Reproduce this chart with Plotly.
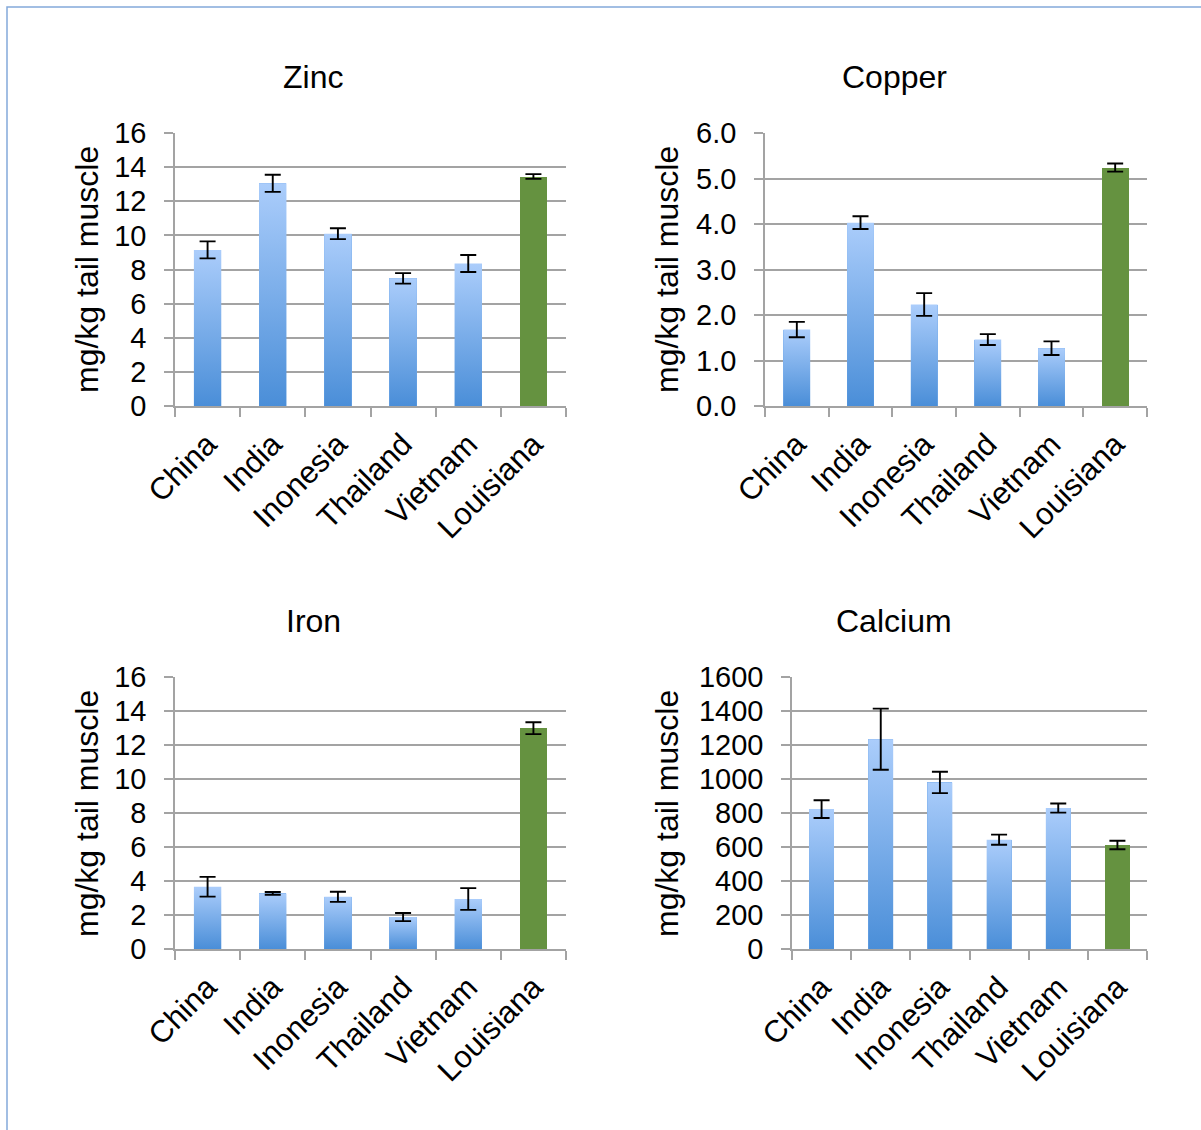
import plotly.graph_objects as go

# ---------------- data ----------------
categories = ["China", "India", "Inonesia", "Thailand", "Vietnam", "Louisiana"]

zinc_vals = [9.15, 13.05, 10.1, 7.48, 8.35, 13.45]
zinc_err = [0.5, 0.5, 0.32, 0.31, 0.5, 0.14]

copper_vals = [1.68, 4.03, 2.23, 1.46, 1.27, 5.24]
copper_err = [0.17, 0.14, 0.25, 0.12, 0.15, 0.09]

iron_vals = [3.66, 3.27, 3.07, 1.88, 2.94, 12.99]
iron_err = [0.58, 0.08, 0.3, 0.24, 0.64, 0.35]

calcium_vals = [823, 1234, 980, 643, 829, 612]
calcium_err = [52, 180, 63, 30, 27, 25]

panel_titles = ["Zinc", "Copper", "Iron", "Calcium"]
y_ticks = [
    [0, 2, 4, 6, 8, 10, 12, 14, 16],
    [0, 1, 2, 3, 4, 5, 6],
    [0, 2, 4, 6, 8, 10, 12, 14, 16],
    [0, 200, 400, 600, 800, 1000, 1200, 1400, 1600],
]
y_tick_labels = [
    ["0", "2", "4", "6", "8", "10", "12", "14", "16"],
    ["0.0", "1.0", "2.0", "3.0", "4.0", "5.0", "6.0"],
    ["0", "2", "4", "6", "8", "10", "12", "14", "16"],
    ["0", "200", "400", "600", "800", "1000", "1200", "1400", "1600"],
]
y_label = "mg/kg tail muscle"

# ---------------- style ----------------
W, H = 1201, 1130
FONT = "Liberation Sans, Arial, Helvetica, sans-serif"
GRID = "#A3A3A3"
BLUE_TOP = "#ABCDFB"
BLUE_BOT = "#4A8ED8"
BLUE_MID = "#7AAEEB"
GREEN = "#659240"
BAR_W = 0.42

# pixel layout of each panel: (x0, x1, ytop, ybottom)
panels_px = [
    (175, 566, 133, 406),
    (765, 1147, 133, 406),
    (175, 566, 677, 949),
    (792, 1147, 677, 949),
]
title_px = [(313, 77), (894, 77), (313, 621), (894, 621)]
ytitle_px = [(87, 270), (667, 270), (87, 814), (667, 814)]

series = [
    (zinc_vals, zinc_err),
    (copper_vals, copper_err),
    (iron_vals, iron_err),
    (calcium_vals, calcium_err),
]

fig = go.Figure()
idx = list(range(len(categories)))
annotations = []

for p, ((vals, errs), (x0, x1, yt, yb)) in enumerate(zip(series, panels_px)):
    xa = "x" if p == 0 else f"x{p+1}"
    ya = "y" if p == 0 else f"y{p+1}"
    colors = [GREEN if c == "Louisiana" else BLUE_MID for c in categories]

    fig.add_trace(go.Bar(
        x=idx, y=vals, width=BAR_W, marker=dict(color=colors, line=dict(width=0)),
        xaxis=xa, yaxis=ya, showlegend=False, name=panel_titles[p],
    ))
    # gradient overlay for the blue bars
    for i, (c, v) in enumerate(zip(categories, vals)):
        if c == "Louisiana":
            continue
        fig.add_trace(go.Scatter(
            x=[i - BAR_W / 2, i + BAR_W / 2, i + BAR_W / 2, i - BAR_W / 2, i - BAR_W / 2],
            y=[0, 0, v, v, 0],
            mode="lines", line=dict(width=0), fill="toself",
            fillgradient=dict(type="vertical",
                              colorscale=[[0, BLUE_BOT], [1, BLUE_TOP]]),
            xaxis=xa, yaxis=ya, showlegend=False, hoverinfo="skip",
        ))
    # error bars
    fig.add_trace(go.Scatter(
        x=idx, y=vals, mode="markers",
        marker=dict(size=1, color="rgba(0,0,0,0)"),
        error_y=dict(type="data", array=errs, visible=True,
                     color="black", thickness=1.9, width=8),
        xaxis=xa, yaxis=ya, showlegend=False,
    ))

    xdom = [x0 / W, x1 / W]
    ydom = [(H - yb) / H, (H - yt) / H]
    axis_common = dict(showline=True, linecolor=GRID, linewidth=1.5, automargin=False)
    fig.layout[("xaxis" if p == 0 else f"xaxis{p+1}")] = dict(
        domain=xdom, anchor=ya, range=[-0.5, 5.5],
        tickmode="array", tickvals=idx, ticktext=categories,
        ticks="", tickangle=-45, showgrid=False, zeroline=False,
        ticklabelstandoff=6,
        tickfont=dict(family=FONT, size=31, color="black"),
        minor=dict(tick0=-0.5, dtick=1, ticks="outside", ticklen=9,
                   tickcolor=GRID, tickwidth=1.5, showgrid=False),
        **axis_common,
    )
    fig.layout[("yaxis" if p == 0 else f"yaxis{p+1}")] = dict(
        domain=ydom, anchor=xa, range=[0, y_ticks[p][-1]],
        tickmode="array", tickvals=y_ticks[p], ticktext=y_tick_labels[p],
        ticks="outside", ticklen=9, tickcolor=GRID, tickwidth=1.5,
        ticklabelstandoff=12,
        showgrid=True, gridcolor=GRID, gridwidth=1.5, zeroline=False,
        tickfont=dict(family=FONT, size=29, color="black"),
        **axis_common,
    )

    tx, ty = title_px[p]
    annotations.append(dict(
        text=panel_titles[p], x=tx / W, y=(H - ty) / H, xref="paper", yref="paper",
        showarrow=False, xanchor="center", yanchor="middle",
        font=dict(family=FONT, size=32, color="black"),
    ))
    ax_, ay_ = ytitle_px[p]
    annotations.append(dict(
        text=y_label, x=ax_ / W, y=(H - ay_) / H, xref="paper", yref="paper",
        showarrow=False, xanchor="center", yanchor="middle", textangle=-90,
        font=dict(family=FONT, size=32, color="black"),
    ))

fig.update_layout(
    width=W, height=H,
    margin=dict(l=0, r=0, t=0, b=0, pad=0, autoexpand=False),
    paper_bgcolor="white", plot_bgcolor="white",
    annotations=annotations,
    bargap=0,
    shapes=[dict(type="rect", xref="paper", yref="paper",
                 x0=7 / W, x1=1.02, y0=-0.02, y1=(H - 7) / H,
                 line=dict(color="#84A9DA", width=1.5), fillcolor="rgba(0,0,0,0)")],
)

fig.write_html(
    "out.html",
    config={"displayModeBar": False},
    post_script="document.body.style.margin='0';document.body.style.overflow='hidden';",
)
